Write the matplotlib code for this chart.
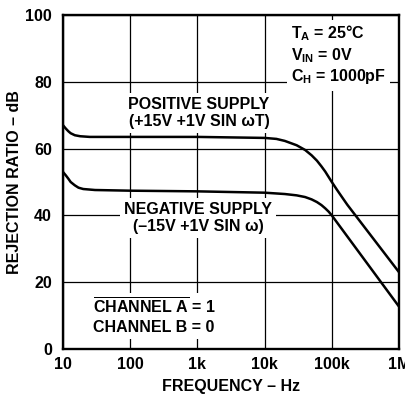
import matplotlib
matplotlib.use("Agg")
import matplotlib.pyplot as plt

plt.rcParams['font.family'] = ['Liberation Sans', 'DejaVu Sans']
plt.rcParams['font.weight'] = 'bold'
plt.rcParams['mathtext.fontset'] = 'custom'
plt.rcParams['mathtext.rm'] = 'Liberation Sans:bold'
plt.rcParams['mathtext.it'] = 'Liberation Sans:bold'
plt.rcParams['mathtext.bf'] = 'Liberation Sans:bold'

# supply rejection vs frequency
pos_freq = [10, 11, 12, 13, 15, 18, 25, 100, 1000, 10000, 15000, 20000, 30000, 40000,
            50000, 60000, 70000, 80000, 100000, 120000, 145000, 170000, 1000000]
pos_db = [67, 66, 65.2, 64.6, 64, 63.7, 63.5, 63.5, 63.5, 63.2, 62.9, 62.3, 61, 59.6,
          58, 56.4, 54.7, 53.1, 50, 47.6, 45.2, 43.2, 23]

neg_freq = [10, 11, 12, 13, 15, 17, 20, 30, 100, 1000, 10000, 20000, 30000, 40000,
            50000, 60000, 70000, 80000, 90000, 100000, 1000000]
neg_db = [53, 52, 51, 50, 49, 48.3, 47.9, 47.6, 47.4, 47.2, 46.8, 46.4, 46, 45.5,
          44.8, 44, 43.1, 42.1, 41.1, 40, 12.7]

x_ticks = [10, 100, 1000, 10000, 100000, 1000000]
x_labels = ['10', '100', '1k', '10k', '100k', '1M']
y_ticks = [0, 20, 40, 60, 80, 100]

fig = plt.figure(figsize=(4.05, 3.94), dpi=100)
ax = fig.add_axes([63 / 405, 45 / 394, 336 / 405, 334 / 394])

ax.plot(pos_freq, pos_db, color='black', lw=1.8, zorder=4, solid_capstyle='butt')
ax.plot(neg_freq, neg_db, color='black', lw=1.8, zorder=4, solid_capstyle='butt')

ax.set_xscale('log')
ax.set_xlim(10, 1e6)
ax.set_ylim(0, 100)
ax.set_xticks(x_ticks)
ax.set_xticklabels(x_labels)
ax.minorticks_off()
ax.set_yticks(y_ticks)
ax.tick_params(length=0, labelsize=11.5, pad=6)
ax.tick_params(axis='y', pad=8)
ax.grid(True, color='black', lw=0.9, zorder=1)
ax.set_axisbelow(True)
for s in ax.spines.values():
    s.set_linewidth(1.7)

ax.set_xlabel('FREQUENCY – Hz', fontsize=11.5, fontweight='bold', labelpad=5)
fig.text(15 / 405, 1 - 182 / 394, 'REJECTION RATIO – dB', rotation=90,
         ha='center', va='center', fontsize=11.5, fontweight='bold')

box = dict(facecolor='white', edgecolor='none', pad=3)


def px(x, y):
    # pixel position in the figure to axes fraction
    return (x - 63) / 336, (349 - y) / 334


ax.text(*px(199, 113), 'POSITIVE SUPPLY\n(+15V +1V SIN ωT)', transform=ax.transAxes,
        ha='center', va='center', fontsize=11.5, linespacing=1.2, bbox=box, zorder=3)
ax.text(*px(198, 218), 'NEGATIVE SUPPLY\n(–15V +1V SIN ω)', transform=ax.transAxes,
        ha='center', va='center', fontsize=11.5, linespacing=1.2, bbox=box, zorder=3)
ax.text(*px(291, 55), '$T_A$ = 25°C\n$V_{IN}$ = 0V\n$C_H$ = 1000pF', transform=ax.transAxes,
        ha='left', va='center', fontsize=11.5, linespacing=1.2, bbox=box, zorder=3)
ax.text(*px(93, 316), r'$\overline{CHANNEL\ A}$ = 1' + '\nCHANNEL B = 0', transform=ax.transAxes,
        ha='left', va='center', fontsize=11.5, linespacing=1.3, bbox=box, zorder=3)

fig.savefig('out.png', dpi=100)
